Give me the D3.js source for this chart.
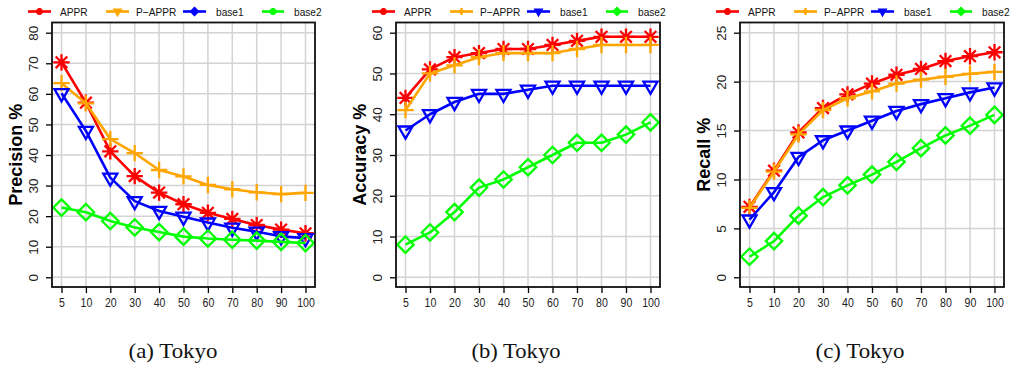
<!DOCTYPE html>
<html>
<head>
<meta charset="utf-8">
<script src="https://cdn.jsdelivr.net/npm/d3@7"></script>
<style>
  body { margin: 0; background: #fff; }
  svg { display: block; }
</style>
</head>
<body>
<svg id="chart" width="1012" height="373"></svg>
<script>
// k values on the x axis (equally spaced categories)
const categories = ['5', '10', '20', '30', '40', '50', '60', '70', '80', '90', '100'];
const seriesNames = ['APPR', 'P\u2212APPR', 'base1', 'base2'];

// (a) precision %
const precisionAPPR = [70.3, 57.1, 41.2, 33.1, 27.7, 23.9, 21.1, 19.1, 17.1, 15.6, 14.4];
const precisionPAPPR = [63.5, 56.9, 45.2, 40.6, 35.1, 33.0, 30.2, 28.8, 27.8, 27.2, 27.6];
const precisionBase1 = [60.2, 47.9, 32.6, 24.9, 21.7, 19.8, 17.9, 16.2, 14.9, 13.4, 12.8];
const precisionBase2 = [22.8, 21.3, 18.4, 16.3, 14.8, 13.3, 12.7, 12.3, 12.0, 11.6, 11.2];

// (b) accuracy %
const accuracyAPPR = [44, 51, 54, 55, 56, 56, 57, 58, 59, 59, 59];
const accuracyPAPPR = [41, 50, 52, 54, 55, 55, 55, 56, 57, 57, 57];
const accuracyBase1 = [36, 40, 43, 45, 45, 46, 47, 47, 47, 47, 47];
const accuracyBase2 = [8, 11, 16, 22, 24, 27, 30, 33, 33, 35, 38];

// (c) recall %
const recallAPPR = [7.2, 10.9, 14.8, 17.3, 18.7, 19.8, 20.7, 21.3, 22.1, 22.6, 23.0];
const recallPAPPR = [7.1, 10.8, 14.6, 17.1, 18.3, 19.0, 19.8, 20.2, 20.5, 20.8, 21.0];
const recallBase1 = [5.9, 8.7, 12.3, 14.0, 15.0, 16.0, 17.0, 17.7, 18.3, 18.9, 19.4];
const recallBase2 = [2.1, 3.7, 6.3, 8.2, 9.4, 10.5, 11.8, 13.2, 14.5, 15.5, 16.6];

const yLabels = ['Precision %', 'Accuracy %', 'Recall %'];
const yTickValues = [
  [0, 10, 20, 30, 40, 50, 60, 70, 80],
  [0, 10, 20, 30, 40, 50, 60],
  [0, 5, 10, 15, 20, 25]
];
const captions = ['(a) Tokyo', '(b) Tokyo', '(c) Tokyo'];

const colors = ['#ff0000', '#ffa500', '#0000ff', '#00ff00'];
const pchPlot = [8, 3, 6, 5];
// the legend of the first panel uses shifted symbols in the original
const pchLegend = [[8, 6, 5, 8], [8, 3, 6, 5], [8, 3, 6, 5]];

const panels = [
  { left: 52, right: 315, cap: 173, values: [precisionAPPR, precisionPAPPR, precisionBase1, precisionBase2] },
  { left: 396, right: 660, cap: 516, values: [accuracyAPPR, accuracyPAPPR, accuracyBase1, accuracyBase2] },
  { left: 740, right: 1004, cap: 860, values: [recallAPPR, recallPAPPR, recallBase1, recallBase2] }
];
const boxTop = 22.5, boxBottom = 287;
const yTopPx = 32.7, yZeroPx = 277.3;

// R-like plotting symbols, centred on 0,0
const symbolPath = (pch, a) => {
  const r = Math.SQRT2 * a;
  if (pch === 8) {
    return `M${-r},0H${r}M0,${-r}V${r}M${-a},${-a}L${a},${a}M${-a},${a}L${a},${-a}`;
  } else if (pch === 3) {
    return `M${-r},0H${r}M0,${-r}V${r}`;
  } else if (pch === 6) {
    const b = a * 0.9;
    const tip = 1.555 * b, xc = 1.347 * b, yc = 0.778 * b;
    return `M0,${tip}L${xc},${-yc}L${-xc},${-yc}Z`;
  } else {
    return `M0,${-r}L${r},0L0,${r}L${-r},0Z`;
  }
};

const squish = (sel, f) => {
  sel.each(function () {
    const len = this.getComputedTextLength();
    d3.select(this).attr('textLength', len * f).attr('lengthAdjust', 'spacingAndGlyphs');
  });
};

const svg = d3.select('#chart');

panels.forEach((p, pi) => {
  const g = svg.append('g');
  const x = d3.scalePoint().domain(categories).range([p.left + 9.5, p.right - 9.5]);
  const ticks = yTickValues[pi];
  const y = d3.scaleLinear().domain([0, ticks[ticks.length - 1]]).range([yZeroPx, yTopPx]);

  // grid
  g.append('g').selectAll('line.gx')
    .data(categories).join('line')
    .attr('x1', (d) => x(d)).attr('x2', (d) => x(d))
    .attr('y1', boxTop).attr('y2', boxBottom)
    .attr('stroke', '#d3d3d3').attr('stroke-width', 1.5);
  g.append('g').selectAll('line.gy')
    .data(ticks).join('line')
    .attr('x1', p.left).attr('x2', p.right)
    .attr('y1', (d) => y(d)).attr('y2', (d) => y(d))
    .attr('stroke', '#d3d3d3').attr('stroke-width', 1.5);

  // y axis
  const yAxis = d3.axisLeft(y).tickValues(ticks).tickSize(6).tickPadding(0).tickFormat(d3.format('d'));
  const ya = g.append('g').attr('transform', `translate(${p.left},0)`).call(yAxis);
  ya.select('.domain').remove();
  ya.selectAll('.tick line').attr('stroke', '#000').attr('stroke-width', 1.3);
  ya.selectAll('.tick text')
    .attr('x', null).attr('dy', null)
    .attr('transform', 'translate(-19,0) rotate(-90)')
    .attr('text-anchor', 'middle')
    .attr('dominant-baseline', 'central')
    .attr('fill', '#222')
    .style('font', '13.5px "Liberation Sans", Arial, sans-serif');

  // x axis
  const xAxis = d3.axisBottom(x).tickSize(6).tickPadding(0);
  const xa = g.append('g').attr('transform', `translate(0,${boxBottom})`).call(xAxis);
  xa.select('.domain').remove();
  xa.selectAll('.tick line').attr('stroke', '#000').attr('stroke-width', 1.3);
  xa.selectAll('.tick text')
    .attr('y', 16).attr('dy', null)
    .attr('dominant-baseline', 'central')
    .attr('fill', '#222')
    .style('font', '12px "Liberation Sans", Arial, sans-serif')
    .call(squish, 0.88);

  // series
  const line = d3.line().x((d, i) => x(categories[i])).y((d) => y(d));
  p.values.forEach((vals, si) => {
    g.append('path')
      .attr('d', line(vals))
      .attr('fill', 'none')
      .attr('stroke', colors[si])
      .attr('stroke-width', 2.6)
      .attr('stroke-linejoin', 'round');
    g.append('g').selectAll('path')
      .data(vals).join('path')
      .attr('transform', (d, i) => `translate(${x(categories[i])},${y(d)})`)
      .attr('d', symbolPath(pchPlot[si], 5.8))
      .attr('fill', 'none')
      .attr('stroke', colors[si])
      .attr('stroke-width', 2.3);
  });

  // box
  g.append('rect')
    .attr('x', p.left).attr('y', boxTop)
    .attr('width', p.right - p.left).attr('height', boxBottom - boxTop)
    .attr('fill', 'none').attr('stroke', '#111').attr('stroke-width', 1.8);

  // y label
  g.append('text')
    .attr('transform', `translate(${p.left - 36},${(boxTop + boxBottom) / 2}) rotate(-90)`)
    .attr('text-anchor', 'middle')
    .attr('dominant-baseline', 'central')
    .style('font', 'bold 18px "Liberation Sans", Arial, sans-serif')
    .text(yLabels[pi]);

  // legend
  const legX = [[-24, -1, 8], [54, 77, 84], [131, 154, 164], [210, 232, 242]];
  seriesNames.forEach((name, si) => {
    const [x0, x1, tx] = legX[si];
    const ly = 11.5;
    g.append('line')
      .attr('x1', p.left + x0).attr('x2', p.left + x1)
      .attr('y1', ly).attr('y2', ly)
      .attr('stroke', colors[si]).attr('stroke-width', 2.6);
    g.append('path')
      .attr('transform', `translate(${p.left + (x0 + x1) / 2},${ly})`)
      .attr('d', symbolPath(pchLegend[pi][si], 2.4))
      .attr('fill', colors[si])
      .attr('stroke', colors[si])
      .attr('stroke-width', 2.4);
    g.append('text')
      .attr('x', p.left + tx).attr('y', ly)
      .attr('dominant-baseline', 'central')
      .attr('fill', '#111')
      .style('font', '11.5px "Liberation Sans", Arial, sans-serif')
      .text(name)
      .call(squish, 0.88);
  });

  // caption
  g.append('text')
    .attr('x', p.cap).attr('y', 358)
    .attr('text-anchor', 'middle')
    .attr('fill', '#111')
    .attr('textLength', 89)
    .attr('lengthAdjust', 'spacingAndGlyphs')
    .style('font', '22px "Liberation Serif", "DejaVu Serif", serif')
    .text(captions[pi]);
});
</script>
</body>
</html>
